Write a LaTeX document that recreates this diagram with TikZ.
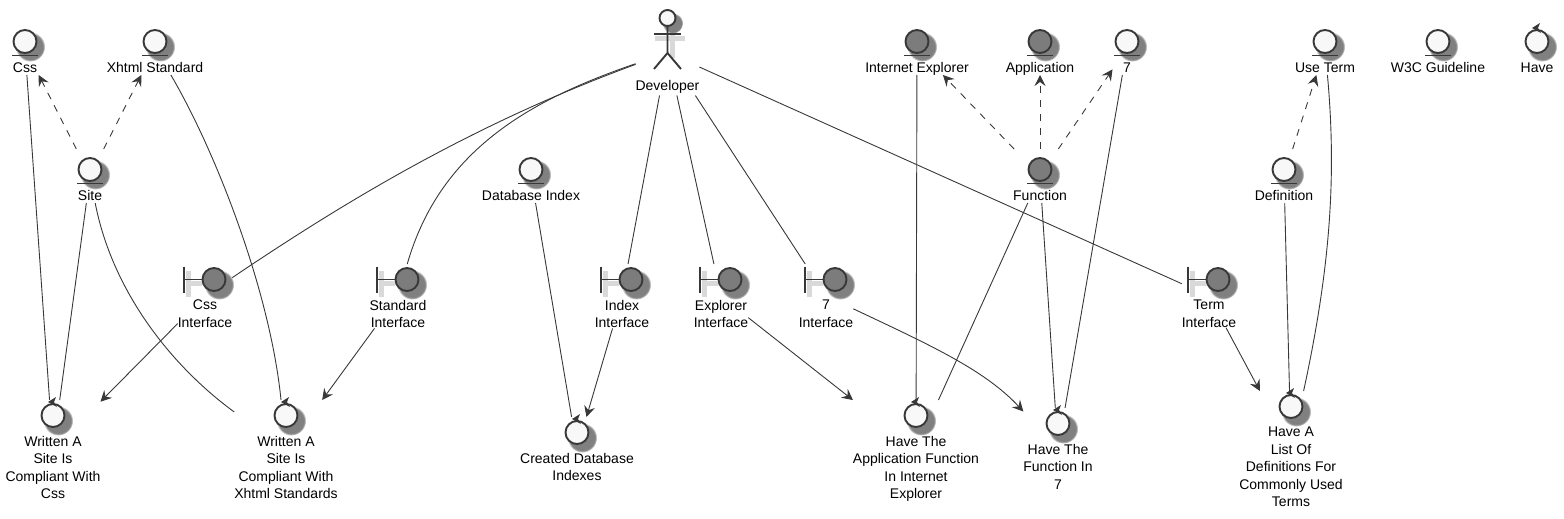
\documentclass[tikz,border=0pt]{standalone}
\usepackage{fontspec}
\setmainfont{Liberation Sans}
\usetikzlibrary{arrows.meta,positioning,fit,shadows}
\definecolor{umlline}{HTML}{383838}
\definecolor{umlfill}{HTML}{F8F8F8}
\definecolor{umldark}{HTML}{7C7C7C}
\tikzset{
  elemlabel/.style={anchor=north,inner sep=0,outer sep=0,align=center,text=black,
    font=\fontsize{14}{17.5}\selectfont,
    execute at begin node=\strut,execute at end node=\strut},
  elembox/.style={inner sep=0,outer sep=0},
  iconball/.style={circle,draw=umlline,fill=umlfill,line width=1.9pt,inner sep=0,outer sep=0,
    minimum size=23pt,
    circular drop shadow={shadow xshift=4pt,shadow yshift=-4pt,shadow scale=1.3,opacity=1}},
  darkball/.style={iconball,fill=umldark},
  iconline/.style={draw=umlline,line width=1.9pt},
  iconshade/.style={draw=black!15,line width=5pt},
  assoc/.style={draw=umlline,line width=.9pt},
  dep/.style={assoc,-{Stealth[length=11pt,width=11pt,inset=4pt]}},
  depdash/.style={dep,dash pattern=on 7pt off 7pt},
}
% name, x, label top, text, ball style
\newcommand\entityelem[5]{%
  \node[elemlabel] (#1-l) at (#2,#3) {#4};
  \node[#5,above=7pt of #1-l] (#1-i) {};
  \draw[iconline] ([shift={(-13,2.5)}]#1-i.south) -- ([shift={(13,2.5)}]#1-i.south);
  \node[elembox,fit={(#1-l.west)(#1-l.east)([xshift=-3pt]#1-i.west)([xshift=3pt]#1-i.east)([yshift=9pt]#1-i.north)([yshift=2.5pt]#1-l.south)}] (#1) {};
}
\newcommand\controlelem[5][9pt]{%
  \node[elemlabel] (#2-l) at (#3,#4) {#5};
  \node[iconball,above=#1 of #2-l] (#2-i) {};
  \fill[umlline] ([shift={(-5,-2)}]#2-i.north) -- ([shift={(3,-7)}]#2-i.north)
    -- ([shift={(1,-2)}]#2-i.north) -- ([shift={(4,3)}]#2-i.north) -- cycle;
  \node[elembox,fit={(#2-l.west)(#2-l.east)(#2-i.west)(#2-i.east)([yshift=4pt]#2-i.north)([yshift=4.5pt]#2-l.south)}] (#2) {};
}
\newcommand\boundaryelem[4]{%
  \node[elemlabel] (#1-l) at (#2,#3) {#4};
  \node[darkball,above=9pt of #1-l,xshift=9pt] (#1-i) {};
  \draw[iconshade] ([shift={(-26,4)}]#1-i.center) -- ([shift={(-12,4)}]#1-i.center);
  \draw[iconshade] ([shift={(-26,-9)}]#1-i.center) -- ([shift={(-26,17)}]#1-i.center);
  \draw[iconline] ([xshift=-30pt]#1-i.center) -- (#1-i.west);
  \draw[iconline] ([shift={(-30,-13)}]#1-i.center) -- ([shift={(-30,13)}]#1-i.center);
  \node[elembox,fit={(#1-l.west)(#1-l.east)([xshift=4pt]#1-i.east)([yshift=4pt]#1-i.north)([yshift=4.5pt]#1-l.south)}] (#1) {};
}
\begin{document}
\begin{tikzpicture}[x=1pt,y=-1pt]
\useasboundingbox (0,0) rectangle (1564,519);
%% actor
\node[elemlabel] (developer-l) at (667.5,78) {Developer};
\draw[iconshade] (655,39) -- (685,39);
\draw[iconshade] (672,30) -- (672,58);
\node[iconball,minimum size=16pt,above=52pt of developer-l] (developer-i) {};
\draw[iconline] (developer-i.south) -- (667.5,53) -- (654,69);
\draw[iconline] (667.5,53) -- (681,69);
\draw[iconline] (654,34) -- (681,34);
\node[elembox,fit={(developer-l)(developer-i)([yshift=2.5pt]developer-l.south)}] (developer) {};
%% entities
\entityelem{css}{25}{60}{Css}{iconball}
\entityelem{xhtml}{155}{60}{Xhtml Standard}{iconball}
\entityelem{site}{90}{188}{Site}{iconball}
\entityelem{dbindex}{531}{188}{Database Index}{iconball}
\entityelem{ie}{917}{60}{Internet Explorer}{darkball}
\entityelem{app}{1040}{60}{Application}{darkball}
\entityelem{seven}{1127}{60}{7}{iconball}
\entityelem{function}{1040}{188}{Function}{darkball}
\entityelem{useterm}{1325}{60}{Use Term}{iconball}
\entityelem{wthree}{1438}{60}{W3C Guideline}{iconball}
\entityelem{definition}{1284}{188}{Definition}{iconball}
%% boundaries
\boundaryelem{cssif}{205}{300}{Css\\Interface}
\boundaryelem{stdif}{398}{300}{Standard\\Interface}
\boundaryelem{indexif}{622}{300}{Index\\Interface}
\boundaryelem{explorerif}{721}{300}{Explorer\\Interface}
\boundaryelem{sevenif}{826}{300}{7\\Interface}
\boundaryelem{termif}{1209}{300}{Term\\Interface}
%% controls
\controlelem{writecss}{53}{436}{Written A\\Site Is\\Compliant With\\Css}
\controlelem{writexhtml}{286}{436}{Written A\\Site Is\\Compliant With\\Xhtml Standards}
\controlelem{created}{577}{453}{Created Database\\Indexes}
\controlelem{haveapp}{916}{436}{Have The\\Application Function\\In Internet\\Explorer}
\controlelem{havefunc}{1058}{444}{Have The\\Function In\\7}
\controlelem{havelist}{1291}{427}{Have A\\List Of\\Definitions For\\Commonly Used\\Terms}
\controlelem[7pt]{have}{1537}{60}{Have}
%% connectors
\draw[depdash] (site) -- (css);
\draw[depdash] (site) -- (xhtml);
\draw[assoc] (css) -- (writecss);
\draw[assoc] (site) -- (writecss);
\draw[assoc] (site) .. controls (112,290) and (170,365) .. (writexhtml);
\draw[assoc] (xhtml) .. controls (215,150) and (270,290) .. (writexhtml);
\draw[assoc] (developer) .. controls (470,125) and (340,205) .. (cssif);
\draw[assoc] (developer) .. controls (530,100) and (440,150) .. (stdif);
\draw[assoc] (developer) -- (indexif);
\draw[assoc] (developer) -- (explorerif);
\draw[assoc] (developer) -- (sevenif);
\draw[assoc] (developer) -- (termif);
\draw[dep] (cssif) -- (writecss);
\draw[dep] (stdif) -- (writexhtml);
\draw[assoc] (dbindex) -- (created);
\draw[dep] (indexif) -- (created);
\draw[dep] (explorerif) -- (haveapp);
\draw[dep] (sevenif) .. controls (930,345) and (985,370) .. (havefunc);
\draw[dep] (termif) -- (havelist);
\draw[assoc] (ie) -- (haveapp);
\draw[assoc] (function) -- (haveapp);
\draw[assoc] (function) -- (havefunc);
\draw[assoc] (seven) -- (havefunc);
\draw[depdash] (function) -- (ie);
\draw[depdash] (function) -- (app);
\draw[depdash] (function) -- (seven);
\draw[depdash] (definition) -- (useterm);
\draw[assoc] (definition) -- (havelist);
\draw[assoc] (useterm) .. controls (1336,170) and (1332,260) .. (havelist);
\end{tikzpicture}
\end{document}
